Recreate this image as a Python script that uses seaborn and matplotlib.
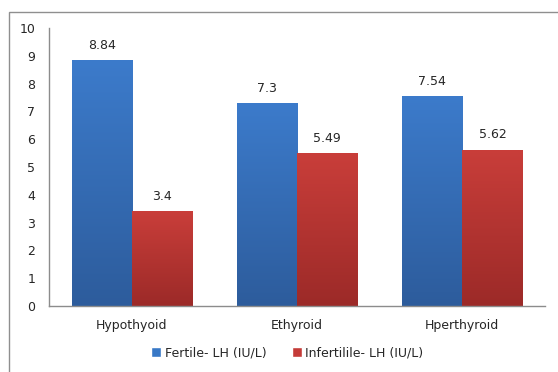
import matplotlib
matplotlib.use("Agg")
import matplotlib.pyplot as plt
import seaborn as sns
import pandas as pd
import numpy as np
from matplotlib.colors import LinearSegmentedColormap
from matplotlib.patches import Rectangle

groups = ["Hypothyoid", "Ethyroid", "Hperthyroid"]
series = ["Fertile- LH (IU/L)", "Infertilile- LH (IU/L)"]
fertile = [8.84, 7.3, 7.54]
infertile = [3.4, 5.49, 5.62]
yticks = [0, 1, 2, 3, 4, 5, 6, 7, 8, 9, 10]

df = pd.DataFrame({
    "group": groups * 2,
    "series": [series[0]] * len(groups) + [series[1]] * len(groups),
    "value": fertile + infertile,
})

sns.set_style("white")
plt.rcParams["font.family"] = ["DejaVu Sans"]
text_color = "#262626"

fig = plt.figure(figsize=(5.58, 3.72), dpi=100)
ax = fig.add_axes([49 / 558, 1 - 306 / 372, (545 - 49) / 558, (306 - 28) / 372])

palette = {series[0]: "#3878c6", series[1]: "#c43b38"}
sns.barplot(data=df, x="group", y="value", hue="series", palette=palette,
            width=0.727, saturation=1, ax=ax, legend=True)

# vertical gradient fill for each bar
gradients = [
    LinearSegmentedColormap.from_list("blue", ["#2d5c9c", "#3c7bcb"]),
    LinearSegmentedColormap.from_list("red", ["#9c2a28", "#c93e3a"]),
]
grad = np.linspace(0, 1, 256).reshape(-1, 1)
for cont, cmap in zip(ax.containers, gradients):
    for bar in cont:
        x, w, h = bar.get_x(), bar.get_width(), bar.get_height()
        im = ax.imshow(grad, extent=[x, x + w, 0, h], origin="lower",
                       aspect="auto", cmap=cmap, zorder=bar.get_zorder() + 0.1)
        im.set_clip_path(bar)
        bar.set_edgecolor("none")
    ax.bar_label(cont, labels=[f"{b.get_height():g}" for b in cont],
                 padding=6, fontsize=9, color=text_color)

ax.set_xlim(-0.5, len(groups) - 0.5)
ax.set_ylim(0, 10)
ax.set_yticks(yticks)
ax.set_xlabel("")
ax.set_ylabel("")
ax.tick_params(axis="y", length=0, pad=10, labelsize=9, labelcolor=text_color)
ax.tick_params(axis="x", length=0, pad=9, labelsize=9, labelcolor=text_color)
for side in ("top", "right"):
    ax.spines[side].set_visible(False)
for side in ("left", "bottom"):
    ax.spines[side].set_color("#8c8c8c")
    ax.spines[side].set_linewidth(1)

leg = ax.legend(loc="center", bbox_to_anchor=(0.515, 1 - 353 / 372),
                bbox_transform=fig.transFigure, ncol=2, frameon=False,
                fontsize=9, handlelength=0.8, handleheight=0.8,
                handletextpad=0.3, columnspacing=2.0, labelcolor=text_color)

# chart border
fig.patches.append(Rectangle((9 / 558, -0.1), 1.0, 1 - 12 / 372 + 0.1,
                             transform=fig.transFigure, fill=False,
                             edgecolor="#8f8f8f", linewidth=1))

fig.savefig("out.png", dpi=100)
